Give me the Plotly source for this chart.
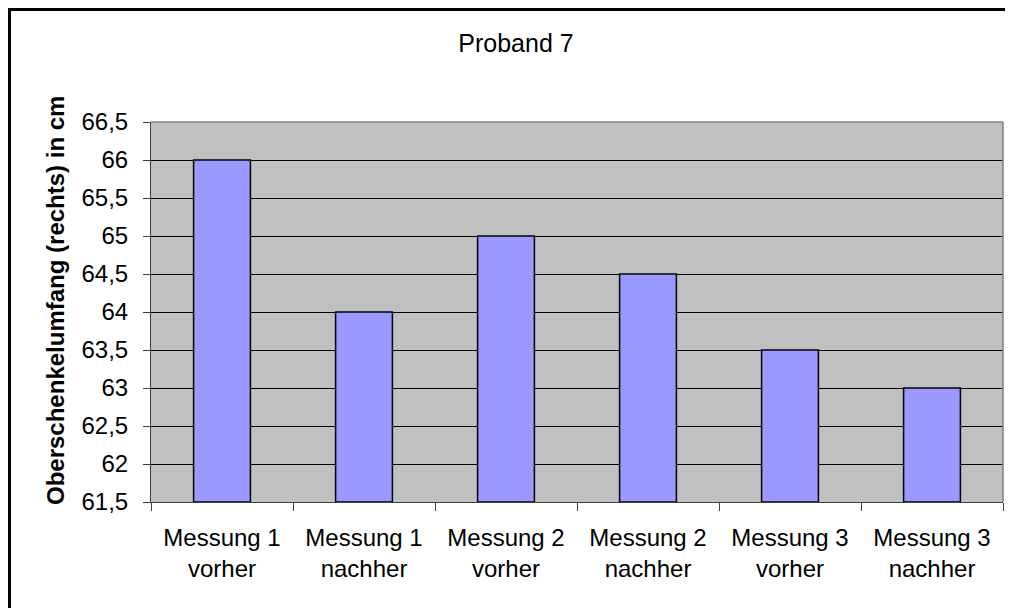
import plotly.graph_objects as go

# Proband 7 - Oberschenkelumfang rechts
categories = [
    "Messung 1<br>vorher",
    "Messung 1<br>nachher",
    "Messung 2<br>vorher",
    "Messung 2<br>nachher",
    "Messung 3<br>vorher",
    "Messung 3<br>nachher",
]
values = [66, 64, 65, 64.5, 63.5, 63]

y_min = 61.5
y_ticks = [61.5, 62, 62.5, 63, 63.5, 64, 64.5, 65, 65.5, 66, 66.5]
y_ticktext = ["61,5", "62", "62,5", "63", "63,5", "64", "64,5", "65", "65,5", "66", "66,5"]

FONT = "Liberation Sans, Arial, sans-serif"

# figure sits 8px in from the page corner (body margin); keep it small enough
# that the page does not scroll
W, H = 1005, 600
L, R, T, B = 143, 10, 114, 106
pw = W - L - R
ph = H - T - B


def px_x(p):
    return (p - L) / pw


def px_y(p):
    return (T + ph - p) / ph


fig = go.Figure()
fig.add_trace(
    go.Bar(
        x=categories,
        y=[v - y_min for v in values],
        base=y_min,
        marker=dict(color="#9999FF", line=dict(color="black", width=1.5)),
        hovertemplate="%{x}: %{customdata}<extra></extra>",
        customdata=values,
    )
)

fig.update_layout(
    width=W,
    height=H,
    margin=dict(l=L, r=R, t=T, b=B),
    paper_bgcolor="white",
    plot_bgcolor="#C0C0C0",
    bargap=0.6,
    showlegend=False,
    font=dict(family=FONT, size=24, color="black"),
    title=dict(
        text="Proband 7",
        x=px_x(508),
        xanchor="center",
        xref="paper",
        y=1 - 35 / H,
        yanchor="middle",
        font=dict(family=FONT, size=25, color="black"),
    ),
)

fig.update_yaxes(
    range=[61.5, 66.5],
    tickvals=y_ticks,
    ticktext=y_ticktext,
    ticks="outside",
    ticklen=7,
    tickcolor="#404040",
    showline=True,
    linecolor="#404040",
    linewidth=1,
    showgrid=True,
    gridcolor="black",
    gridwidth=1,
    zeroline=False,
    ticklabelstandoff=10,
    tickfont=dict(size=24),
)

fig.update_xaxes(
    tickson="boundaries",
    ticks="outside",
    ticklen=8,
    tickcolor="#404040",
    showline=True,
    linecolor="#404040",
    linewidth=1,
    showgrid=False,
    ticklabelstandoff=14,
    tickfont=dict(size=24),
)

# y axis title
fig.add_annotation(
    text="<b>Oberschenkelumfang (rechts) in cm</b>",
    xref="paper",
    yref="paper",
    x=px_x(47),
    y=px_y(293),
    xanchor="center",
    yanchor="middle",
    textangle=-90,
    showarrow=False,
    font=dict(size=24),
)

# gray border on top and right of the plot area
fig.add_shape(type="line", xref="paper", yref="paper", x0=0, x1=1, y0=1, y1=1,
              line=dict(color="#808080", width=1.5))
fig.add_shape(type="line", xref="paper", yref="paper", x0=1, x1=1, y0=0, y1=1,
              line=dict(color="#808080", width=1.5))

# outer chart frame: only top and left edges are inside the picture
fig.add_shape(type="line", xref="paper", yref="paper",
              x0=px_x(0), x1=px_x(W + 10), y0=px_y(1.5), y1=px_y(1.5),
              line=dict(color="black", width=3), layer="above")
fig.add_shape(type="line", xref="paper", yref="paper",
              x0=px_x(1.5), x1=px_x(1.5), y0=px_y(0), y1=px_y(H + 10),
              line=dict(color="black", width=3), layer="above")

fig.write_html("out.html", config={"displayModeBar": False})
